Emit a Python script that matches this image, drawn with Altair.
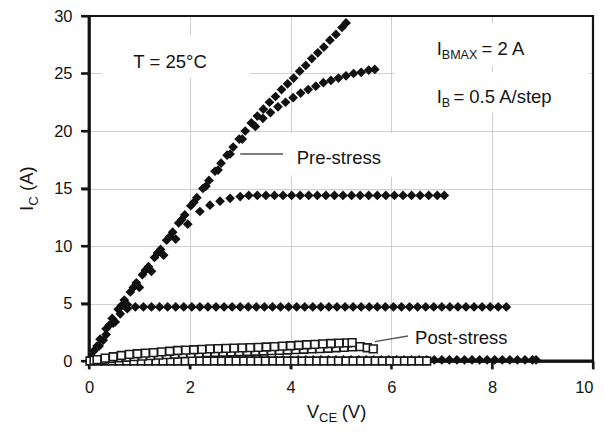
import altair as alt
import pandas as pd

# ---------------- data ----------------
# Pre-stress curves (filled diamonds), one per base-current step
pre0_v = [0.10, 0.25, 0.40, 0.55, 0.70, 0.85, 1.00, 1.15, 1.30, 1.45,
          1.60, 1.75, 1.90, 2.05, 2.20, 2.35, 2.50, 2.65, 2.80, 2.95,
          3.10, 3.25, 3.40, 3.55, 3.70, 3.85, 4.00, 4.15, 4.30, 4.45,
          4.60, 4.75, 4.90, 5.05, 5.20, 5.35, 5.50, 5.65, 5.80, 5.95,
          6.10, 6.25, 6.40, 6.55, 6.70, 6.85, 7.00, 7.15, 7.30, 7.45,
          7.60, 7.75, 7.90, 8.05, 8.20, 8.35, 8.50, 8.65, 8.80, 8.87]
pre0_i = [0.10, 0.10, 0.10, 0.10, 0.10, 0.10, 0.10, 0.10, 0.10, 0.10,
          0.10, 0.10, 0.10, 0.10, 0.10, 0.10, 0.10, 0.10, 0.10, 0.10,
          0.10, 0.10, 0.10, 0.10, 0.10, 0.10, 0.10, 0.10, 0.10, 0.10,
          0.10, 0.10, 0.10, 0.10, 0.10, 0.10, 0.10, 0.10, 0.10, 0.10,
          0.10, 0.10, 0.10, 0.10, 0.10, 0.10, 0.10, 0.10, 0.10, 0.10,
          0.10, 0.10, 0.10, 0.10, 0.10, 0.10, 0.10, 0.10, 0.10, 0.10]

pre1_v = [0.06, 0.20, 0.34, 0.48, 0.62, 0.76,
          0.92, 1.08, 1.24, 1.40, 1.56, 1.72, 1.88, 2.04, 2.20, 2.36,
          2.52, 2.68, 2.84, 3.00, 3.16, 3.32, 3.48, 3.64, 3.80, 3.96,
          4.12, 4.28, 4.44, 4.60, 4.76, 4.92, 5.08, 5.24, 5.40, 5.56,
          5.72, 5.88, 6.04, 6.20, 6.36, 6.52, 6.68, 6.84, 7.00, 7.16,
          7.32, 7.48, 7.64, 7.80, 7.96, 8.12, 8.28]
pre1_i = [0.4, 1.3, 2.3, 3.3, 4.1, 4.55,
          4.7, 4.7, 4.7, 4.7, 4.7, 4.7, 4.7, 4.7, 4.7, 4.7,
          4.7, 4.7, 4.7, 4.7, 4.7, 4.7, 4.7, 4.7, 4.7, 4.7,
          4.7, 4.7, 4.7, 4.7, 4.7, 4.7, 4.7, 4.7, 4.7, 4.7,
          4.7, 4.7, 4.7, 4.7, 4.7, 4.7, 4.7, 4.7, 4.7, 4.7,
          4.7, 4.7, 4.7, 4.7, 4.7, 4.7, 4.7]

pre2_v = [0.28, 0.52, 0.76, 1.00, 1.24, 1.48, 1.72, 1.96, 2.20, 2.40, 2.60, 2.80, 3.00,
          3.17, 3.34, 3.51, 3.68, 3.85, 4.02, 4.19, 4.36, 4.53, 4.70,
          4.87, 5.04, 5.21, 5.38, 5.55, 5.72, 5.89, 6.06, 6.23, 6.40,
          6.57, 6.74, 6.91, 7.05]
pre2_i = [1.8, 3.4, 4.9, 6.4, 7.8, 9.2, 10.6, 11.9, 13.0, 13.55, 13.9, 14.15, 14.3,
          14.4, 14.4, 14.4, 14.4, 14.4, 14.4, 14.4, 14.4, 14.4, 14.4,
          14.4, 14.4, 14.4, 14.4, 14.4, 14.4, 14.4, 14.4, 14.4, 14.4,
          14.4, 14.4, 14.4, 14.4]

pre3_v = [0.16, 0.40, 0.64, 0.88, 1.12, 1.36, 1.60, 1.84, 2.08, 2.32, 2.56, 2.80, 3.04,
          3.30, 3.45, 3.60, 3.75, 3.90, 4.05, 4.20, 4.35, 4.50, 4.65, 4.80,
          4.95, 5.10, 5.25, 5.40, 5.55, 5.67]
pre3_i = [1.3, 3.1, 4.8, 6.4, 7.9, 9.4, 10.8, 12.3, 13.8, 15.2, 16.6, 18.0, 19.3,
          20.4, 21.1, 21.6, 22.1, 22.5, 22.9, 23.3, 23.6, 23.9, 24.2, 24.4,
          24.6, 24.8, 25.0, 25.1, 25.3, 25.35]

pre4_v = [0.10, 0.22, 0.34, 0.46, 0.58, 0.70, 0.82, 0.94, 1.06, 1.18,
          1.30, 1.42, 1.54, 1.66, 1.78, 1.90, 2.02, 2.14, 2.26, 2.38,
          2.50, 2.62, 2.74, 2.86, 2.98, 3.10, 3.22, 3.34, 3.46, 3.58,
          3.70, 3.82, 3.94, 4.06, 4.18, 4.30, 4.42, 4.54, 4.66, 4.78,
          4.90, 5.02, 5.10]
pre4_i = [0.9, 1.9, 2.8, 3.7, 4.5, 5.3, 6.0, 6.8, 7.5, 8.2,
          9.0, 9.7, 10.5, 11.2, 12.0, 12.7, 13.5, 14.2, 15.0, 15.7,
          16.5, 17.2, 17.9, 18.6, 19.3, 20.0, 20.7, 21.3, 21.9, 22.5,
          23.0, 23.6, 24.1, 24.6, 25.2, 25.7, 26.3, 26.8, 27.3, 27.9,
          28.4, 29.0, 29.4]

# Post-stress curves (open squares)
post0_v = [0.02, 0.17, 0.31, 0.46, 0.60, 0.75, 0.89, 1.04, 1.18, 1.33,
           1.47, 1.62, 1.76, 1.91, 2.05, 2.20, 2.34, 2.49, 2.63, 2.78,
           2.92, 3.07, 3.21, 3.36, 3.50, 3.65, 3.79, 3.94, 4.08, 4.23,
           4.37, 4.52, 4.66, 4.81, 4.95, 5.10, 5.24, 5.39, 5.53, 5.68,
           5.82, 5.97, 6.11, 6.26, 6.40, 6.55, 6.70]
post0_i = [0.0, 0.0, 0.0, 0.0, 0.0, 0.0, 0.0, 0.0, 0.0, 0.0,
           0.0, 0.0, 0.0, 0.0, 0.0, 0.0, 0.0, 0.0, 0.0, 0.0,
           0.0, 0.0, 0.0, 0.0, 0.0, 0.0, 0.0, 0.0, 0.0, 0.0,
           0.0, 0.0, 0.0, 0.0, 0.0, 0.0, 0.0, 0.0, 0.0, 0.0,
           0.0, 0.0, 0.0, 0.0, 0.0, 0.0, 0.0]

post1_v = [0.10, 0.26, 0.42, 0.58, 0.74, 0.90, 1.06, 1.22, 1.38, 1.54,
           1.70, 1.86, 2.02, 2.18, 2.34, 2.50, 2.66, 2.82, 2.98, 3.14,
           3.30, 3.46, 3.62, 3.78, 3.94, 4.10, 4.26, 4.42, 4.58, 4.74,
           4.90, 5.06, 5.22, 5.38, 5.52, 5.64]
post1_i = [0.05, 0.12, 0.20, 0.27, 0.33, 0.38, 0.43, 0.47, 0.51, 0.55,
           0.59, 0.63, 0.66, 0.69, 0.72, 0.75, 0.77, 0.79, 0.81, 0.83,
           0.85, 0.87, 0.90, 0.93, 0.96, 0.99, 1.02, 1.05, 1.08, 1.11,
           1.15, 1.19, 1.23, 1.25, 1.15, 1.05]

post2_v = [0.16, 0.32, 0.48, 0.64, 0.80, 0.96, 1.12, 1.28, 1.44, 1.60,
           1.76, 1.92, 2.08, 2.24, 2.40, 2.56, 2.72, 2.88, 3.04, 3.20,
           3.36, 3.52, 3.68, 3.84, 4.00, 4.16, 4.32, 4.48, 4.64, 4.80,
           4.96, 5.12, 5.22]
post2_i = [0.12, 0.25, 0.37, 0.48, 0.57, 0.63, 0.68, 0.73, 0.79, 0.85,
           0.91, 0.95, 0.98, 1.01, 1.05, 1.08, 1.10, 1.12, 1.14, 1.16,
           1.19, 1.22, 1.25, 1.29, 1.33, 1.37, 1.41, 1.45, 1.49, 1.52,
           1.55, 1.58, 1.60]

x_ticks = [0, 2, 4, 6, 8, 10]
y_ticks = [0, 5, 10, 15, 20, 25, 30]

# in-plot annotations (text, V position, I position of baseline-left, font size)
note_text = ["T = 25°C", "I", "BMAX", "= 2 A", "I", "B", "= 0.5 A/step",
             "Pre-stress", "Post-stress"]
note_v = [0.88, 6.90, 7.00, 7.79, 6.90, 7.00, 7.23, 4.12, 6.47]
note_i = [25.45, 26.61, 26.26, 26.61, 22.41, 22.06, 22.41, 17.09, 1.48]
note_size = [18.5, 18.5, 12.5, 18.5, 18.5, 12.5, 18.5, 18.5, 18.5]

# leader lines
lead_v1 = [3.00, 5.67]
lead_v2 = [3.85, 6.33]
lead_i1 = [18.0, 1.68]
lead_i2 = [18.0, 2.17]

# white label boxes that mask the gridlines
box_v1 = [0.26, 6.07, 6.07, 3.89, 6.37]
box_v2 = [3.19, 9.92, 9.92, 6.17, 8.45]
box_i1 = [24.6, 25.65, 21.57, 15.99, 0.26]
box_i2 = [28.35, 29.4, 25.13, 19.83, 4.43]

# ---------------- tables ----------------
def series(vs, is_, name):
    return pd.DataFrame({"v": vs, "i": is_, "s": name})

pre_df = pd.concat([series(pre0_v, pre0_i, "p0"), series(pre1_v, pre1_i, "p1"),
                    series(pre2_v, pre2_i, "p2"), series(pre3_v, pre3_i, "p3"),
                    series(pre4_v, pre4_i, "p4")], ignore_index=True)
post_df = pd.concat([series(post0_v, post0_i, "q0"), series(post1_v, post1_i, "q1"),
                     series(post2_v, post2_i, "q2")], ignore_index=True)
note_df = pd.DataFrame({"t": note_text, "v": note_v, "i": note_i, "size": note_size})
lead_df = pd.DataFrame({"v1": lead_v1, "v2": lead_v2, "i1": lead_i1, "i2": lead_i2})
box_df = pd.DataFrame({"v1": box_v1, "v2": box_v2, "i1": box_i1, "i2": box_i2})

# ---- frame and outward ticks as thin filled bars on the same scales ----
PXV = 1 / 50.4    # one pixel in volts
PXA = 1 / 11.5    # one pixel in amperes
X0, X1 = x_ticks[0], x_ticks[-1]
Y0, Y1 = y_ticks[0], y_ticks[-1]
heavy, light, tick_len, tick_w = 2.8, 2.2, 8, 2.2
frame_rows = [
    (X0 - heavy / 2 * PXV, X0 + heavy / 2 * PXV, Y0 - heavy / 2 * PXA, Y1 + light / 2 * PXA),
    (X0 - heavy / 2 * PXV, X1 + light / 2 * PXV, Y0 - heavy / 2 * PXA, Y0 + heavy / 2 * PXA),
    (X0, X1 + light / 2 * PXV, Y1 - light / 2 * PXA, Y1 + light / 2 * PXA),
    (X1 - light / 2 * PXV, X1 + light / 2 * PXV, Y0, Y1 + light / 2 * PXA),
]
frame_rows += [(t - tick_w / 2 * PXV, t + tick_w / 2 * PXV, Y0 - tick_len * PXA, Y0)
               for t in x_ticks]
frame_rows += [(X0 - tick_len * PXV, X0, t - tick_w / 2 * PXA, t + tick_w / 2 * PXA)
               for t in y_ticks]
frame_df = pd.DataFrame(frame_rows, columns=["v1", "v2", "i1", "i2"])

INK = "#141414"
FONT = "Liberation Sans"
xs = alt.Scale(domain=[X0, X1], nice=False, zero=False)
ys = alt.Scale(domain=[Y0, Y1], nice=False, zero=False)
x_label_align = {"condition": {"test": "datum.value == 10", "value": "right"},
                 "value": "center"}
xaxis = alt.Axis(values=x_ticks, title=None, format="d", labelPadding=10,
                 labelAlign=x_label_align)
yaxis = alt.Axis(values=y_ticks, title=None, format="d", labelPadding=9)

def X(f):
    return alt.X(f, scale=xs, axis=xaxis)

def Y(f):
    return alt.Y(f, scale=ys, axis=yaxis)

boxes = alt.Chart(box_df).mark_rect(color="#ffffff", opacity=1).encode(
    x=X("v1:Q"), x2="v2:Q", y=Y("i1:Q"), y2="i2:Q")

frame = alt.Chart(frame_df).mark_rect(color=INK, opacity=1).encode(
    x=X("v1:Q"), x2="v2:Q", y=Y("i1:Q"), y2="i2:Q")

pre = alt.Chart(pre_df).mark_point(shape="diamond", filled=True, color="#111111",
                                   size=95, opacity=1).encode(
    x=X("v:Q"), y=Y("i:Q"), detail="s:N")

post = alt.Chart(post_df).mark_point(shape="square", filled=True, fill="#ffffff",
                                     stroke="#1a1a1a", strokeWidth=1.6, size=60,
                                     opacity=1).encode(
    x=X("v:Q"), y=Y("i:Q"), detail="s:N")

leads = alt.Chart(lead_df).mark_rule(color="#555555", strokeWidth=1.4).encode(
    x=X("v1:Q"), x2="v2:Q", y=Y("i1:Q"), y2="i2:Q")

notes = alt.Chart(note_df).mark_text(align="left", baseline="alphabetic", font=FONT,
                                     color=INK).encode(
    x=X("v:Q"), y=Y("i:Q"),
    text="t:N", size=alt.Size("size:Q", scale=None, legend=None))

# axis titles with subscripts (pixel offsets relative to the plot area)
def ptxt(txt, px, py, fs, angle=0):
    return alt.Chart(pd.DataFrame({"t": [txt]})).mark_text(
        align="left", baseline="alphabetic", font=FONT, color=INK,
        fontSize=fs, angle=angle).encode(text="t:N", x=alt.value(px), y=alt.value(py))

titles = [
    ptxt("V", 217.7, 402, 18.5),
    ptxt("CE", 230.0, 406, 13),
    ptxt("(V)", 252.7, 402, 18.5),
    ptxt("I", -56, 195, 18.5, 270),
    ptxt("C", -51, 189.7, 13, 270),
    ptxt("(A)", -56, 175, 18.5, 270),
]

chart = alt.layer(boxes, frame, pre, post, leads, notes, *titles).properties(
    width=504, height=345, background="#ffffff",
    autosize=alt.AutoSizeParams(type="none"),
    padding={"left": 81, "top": 8, "right": 3, "bottom": 63},
).configure_view(
    strokeWidth=0
).configure_axis(
    grid=True, gridColor="#cfcfcf", gridWidth=1,
    ticks=True, tickSize=8, tickWidth=2, tickColor=INK,
    domain=True, domainColor=INK, domainWidth=2.5,
    labelFontSize=16.5, labelColor=INK, labelFont=FONT, labelFlush=False,
)

chart.save("out.html", embed_options={"renderer": "svg", "actions": False})
